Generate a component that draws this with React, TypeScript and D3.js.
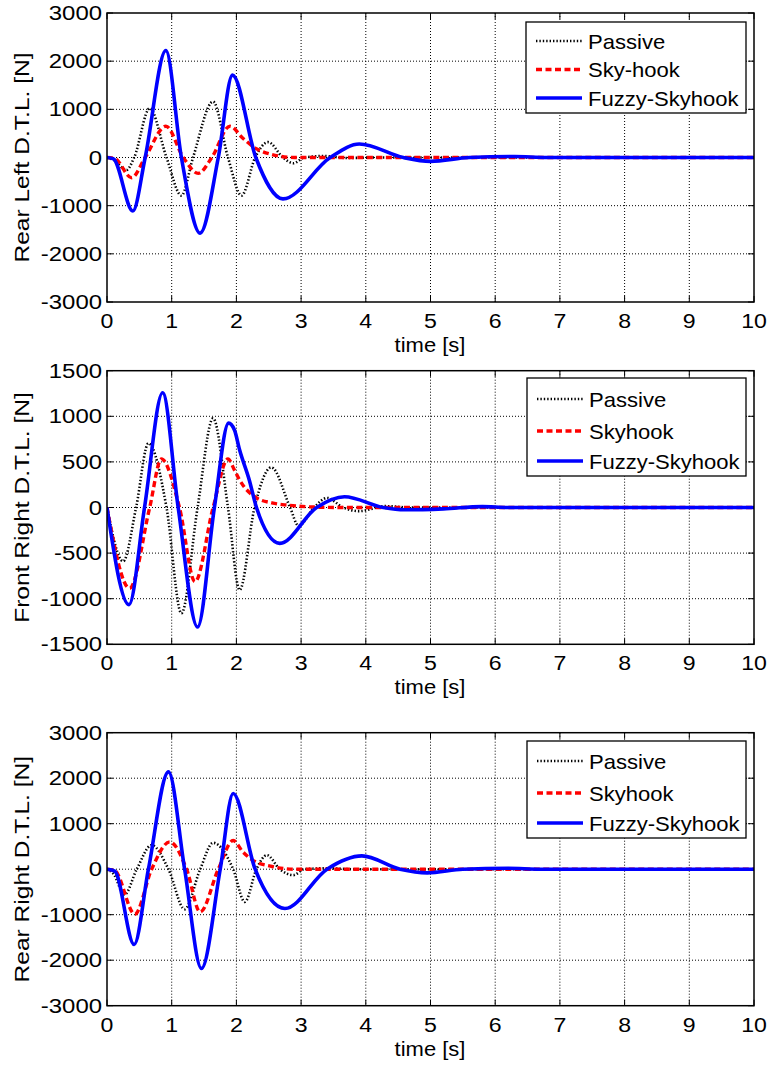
import React from 'react';
import * as d3 from 'd3';

// ---------- data ----------
const xTicks = [0, 1, 2, 3, 4, 5, 6, 7, 8, 9, 10];
const yTicksRear = [-3000, -2000, -1000, 0, 1000, 2000, 3000];
const yTicksFront = [-1500, -1000, -500, 0, 500, 1000, 1500];

// Panel 1: Rear Left
const rlPassiveT = [0, 0.1, 0.3, 0.42, 0.66, 0.92, 1.15, 1.33, 1.64, 1.87, 2.08, 2.29, 2.49, 2.72, 2.88, 3.05, 3.35, 3.7, 4.2, 10];
const rlPassiveV = [0, -50, -260, 0, 1020, 0, -790, 0, 1160, 0, -790, 0, 320, 0, -120, 0, 30, -10, 0, 0];
const rlSkyT = [0, 0.12, 0.38, 0.59, 0.91, 1.18, 1.41, 1.62, 1.9, 2.1, 2.3, 2.55, 2.9, 10];
const rlSkyV = [0, -20, -420, 0, 650, 0, -330, 0, 650, 400, 190, 60, 0, 0];
const rlFuzzyT = [0, 0.1, 0.4, 0.59, 0.91, 1.15, 1.44, 1.72, 1.94, 2.3, 2.72, 3.45, 3.9, 4.58, 5.0, 5.6, 6.3, 6.8, 10];
const rlFuzzyV = [0, -30, -1110, 0, 2220, 0, -1570, 0, 1710, 0, -860, 0, 280, 0, -80, 0, 20, 0, 0];

// Panel 2: Front Right
const frPassiveT = [0, 0.25, 0.45, 0.64, 0.92, 1.15, 1.4, 1.64, 1.87, 2.05, 2.28, 2.54, 2.83, 2.96, 3.2, 3.4, 3.65, 3.9, 4.3, 4.7, 10];
const frPassiveV = [0, -590, 0, 704, 0, -1160, 0, 978, 0, -905, 0, 440, 0, -200, 0, 105, 0, -40, 15, 0, 0];
const frSkyT = [0, 0.35, 0.66, 0.84, 1.12, 1.36, 1.64, 1.87, 1.97, 2.05, 2.3, 2.55, 2.8, 3.2, 3.6, 10];
const frSkyV = [0, -886, 0, 532, 0, -813, 0, 532, 410, 300, 110, 50, 25, 5, 0, 0];
const frFuzzyT = [0, 0.34, 0.58, 0.86, 1.1, 1.4, 1.66, 1.88, 1.97, 2.05, 2.2, 2.31, 2.67, 3.24, 3.67, 4.27, 4.6, 5.2, 5.8, 6.2, 10];
const frFuzzyV = [0, -1065, 0, 1258, 0, -1310, 0, 925, 850, 630, 300, 0, -393, 0, 118, 0, -25, -15, 10, 0, 0];

// Panel 3: Rear Right
const rrPassiveT = [0, 0.1, 0.27, 0.46, 0.69, 0.95, 1.2, 1.44, 1.64, 1.95, 2.13, 2.31, 2.47, 2.67, 2.88, 3.05, 3.4, 3.8, 10];
const rrPassiveV = [0, -100, -560, 0, 530, 0, -880, 0, 580, 0, -720, 0, 310, 0, -130, 0, 20, 0, 0];
const rrSkyT = [0, 0.12, 0.43, 0.69, 0.97, 1.23, 1.44, 1.72, 1.95, 2.1, 2.25, 2.55, 2.9, 10];
const rrSkyV = [0, -30, -990, 0, 600, 0, -940, 0, 630, 380, 200, 60, 0, 0];
const rrFuzzyT = [0, 0.12, 0.42, 0.64, 0.95, 1.2, 1.46, 1.75, 1.95, 2.29, 2.75, 3.4, 3.94, 4.53, 4.95, 5.5, 6.2, 6.7, 10];
const rrFuzzyV = [0, -40, -1655, 0, 2140, 0, -2183, 0, 1663, 0, -865, 0, 292, 0, -80, 0, 20, 0, 0];

const yLabels = ['Rear Left D.T.L. [N]', 'Front Right D.T.L. [N]', 'Rear Right D.T.L. [N]'];
const legendNames1 = ['Passive', 'Sky-hook', 'Fuzzy-Skyhook'];
const legendNames2 = ['Passive', 'Skyhook', 'Fuzzy-Skyhook'];
const xLabel = 'time [s]';

// ---------- styles ----------
const FONT = 'Liberation Sans, Arial, sans-serif';
const styles = [
  { stroke: '#000', width: 2.6, dash: '1.4,2' },
  { stroke: '#ff0000', width: 3.4, dash: '6,3.5' },
  { stroke: '#0000ff', width: 3.6, dash: '' },
];

const panels = [
  {
    top: 13, bottom: 302, yDomain: [-3000, 3000], yTicks: yTicksRear, yLabel: yLabels[0], legend: legendNames1,
    series: [[rlPassiveT, rlPassiveV], [rlSkyT, rlSkyV], [rlFuzzyT, rlFuzzyV]],
    legBox: [526, 22, 746, 113], legRows: [41, 69.5, 98],
  },
  {
    top: 370.7, bottom: 644.3, yDomain: [-1500, 1500], yTicks: yTicksFront, yLabel: yLabels[1], legend: legendNames2,
    series: [[frPassiveT, frPassiveV], [frSkyT, frSkyV], [frFuzzyT, frFuzzyV]],
    legBox: [527, 378, 746, 476], legRows: [399, 431, 461],
  },
  {
    top: 732.7, bottom: 1005.7, yDomain: [-3000, 3000], yTicks: yTicksRear, yLabel: yLabels[2], legend: legendNames2,
    series: [[rrPassiveT, rrPassiveV], [rrSkyT, rrSkyV], [rrFuzzyT, rrFuzzyV]],
    legBox: [527, 741, 746, 838], legRows: [761, 793, 823],
  },
];

const LEFT = 107;
const RIGHT = 754;

function Panel({ p, idx }: { p: any; idx: number }) {
  const x = d3.scaleLinear().domain([0, 10]).range([LEFT, RIGHT]);
  const y = d3.scaleLinear().domain(p.yDomain).range([p.bottom, p.top]);
  const line = d3.line<[number, number]>().x((d) => x(d[0])).y((d) => y(d[1])).curve(d3.curveMonotoneX);
  const tickLen = 6;
  const cy = (p.top + p.bottom) / 2;
  return (
    <g>
      {xTicks.slice(1, -1).map((t) => (
        <line key={'gx' + t} x1={x(t)} x2={x(t)} y1={p.top} y2={p.bottom} stroke="#000" strokeWidth={1} strokeDasharray="1,2" />
      ))}
      {p.yTicks.slice(1, -1).map((t: number) => (
        <line key={'gy' + t} x1={LEFT} x2={RIGHT} y1={y(t)} y2={y(t)} stroke="#000" strokeWidth={1} strokeDasharray="1,2" />
      ))}
      {xTicks.map((t) => (
        <g key={'tx' + t}>
          <line x1={x(t)} x2={x(t)} y1={p.bottom} y2={p.bottom - tickLen} stroke="#000" />
          <line x1={x(t)} x2={x(t)} y1={p.top} y2={p.top + tickLen} stroke="#000" />
          <text transform={`translate(${x(t)},${p.bottom + 26}) scale(1.1,1)`} textAnchor="middle" fontSize={21} fontFamily={FONT}>{t}</text>
        </g>
      ))}
      {p.yTicks.map((t: number) => (
        <g key={'ty' + t}>
          <line x1={LEFT} x2={LEFT + tickLen} y1={y(t)} y2={y(t)} stroke="#000" />
          <line x1={RIGHT} x2={RIGHT - tickLen} y1={y(t)} y2={y(t)} stroke="#000" />
          <text transform={`translate(${LEFT - 5},${y(t) + 7}) scale(1.14,1)`} textAnchor="end" fontSize={21} fontFamily={FONT}>{t}</text>
        </g>
      ))}
      <defs>
        <clipPath id={'clip' + idx}>
          <rect x={LEFT} y={p.top} width={RIGHT - LEFT} height={p.bottom - p.top} />
        </clipPath>
      </defs>
      <g clipPath={`url(#clip${idx})`}>
        {p.series.map((s: number[][], i: number) => {
          const pts = s[0].map((t: number, k: number) => [t, s[1][k]] as [number, number]);
          return (
            <path key={i} d={line(pts) || ''} fill="none" stroke={styles[i].stroke} strokeWidth={styles[i].width}
              strokeDasharray={styles[i].dash || undefined} strokeLinejoin="round" />
          );
        })}
      </g>
      <rect x={LEFT} y={p.top} width={RIGHT - LEFT} height={p.bottom - p.top} fill="none" stroke="#000" strokeWidth={1.5} />
      <text transform={`translate(430,${p.bottom + 50}) scale(1.1,1)`} textAnchor="middle" fontSize={20} fontFamily={FONT}>{xLabel}</text>
      <text transform={`translate(29,${cy}) rotate(-90) scale(1.17,1)`} textAnchor="middle" fontSize={21} fontFamily={FONT}>{p.yLabel}</text>
      <rect x={p.legBox[0]} y={p.legBox[1]} width={p.legBox[2] - p.legBox[0]} height={p.legBox[3] - p.legBox[1]}
        fill="#fff" stroke="#000" strokeWidth={1.3} />
      {p.legend.map((name: string, i: number) => (
        <g key={name}>
          <line x1={p.legBox[0] + 10} x2={p.legBox[0] + 56} y1={p.legRows[i]} y2={p.legRows[i]} stroke={styles[i].stroke}
            strokeWidth={styles[i].width} strokeDasharray={styles[i].dash || undefined} />
          <text transform={`translate(${p.legBox[0] + 62},${p.legRows[i] + 7.5}) scale(1.05,1)`} fontSize={21} fontFamily={FONT}>{name}</text>
        </g>
      ))}
    </g>
  );
}

export default function App() {
  return (
    <svg width={767} height={1065} style={{ position: 'absolute', left: 0, top: 0, background: '#fff' }}>
      <rect x={0} y={0} width={767} height={1065} fill="#fff" />
      {panels.map((p, i) => <Panel key={i} p={p} idx={i} />)}
    </svg>
  );
}
